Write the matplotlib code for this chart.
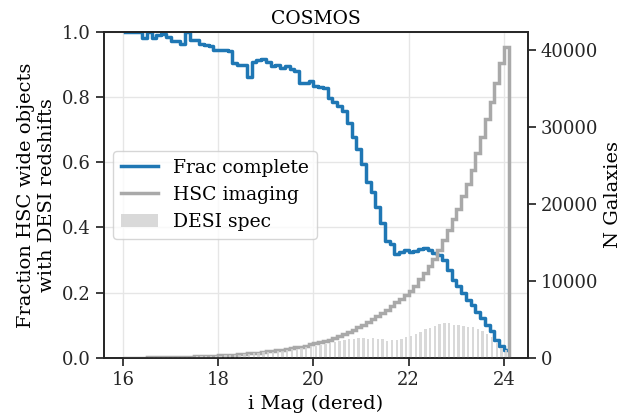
#!/usr/bin/env python
# COSMOS completeness: fraction of HSC wide objects with DESI redshifts vs i mag

import matplotlib
matplotlib.use('Agg')
import matplotlib.pyplot as plt
import numpy as np

plt.rcParams['font.family'] = ['DejaVu Serif']
plt.rcParams['axes.edgecolor'] = '#262626'
plt.rcParams['axes.linewidth'] = 1.25
plt.rcParams['xtick.major.width'] = 1.25
plt.rcParams['ytick.major.width'] = 1.25
plt.rcParams['xtick.major.size'] = 6
plt.rcParams['ytick.major.size'] = 6
plt.rcParams['xtick.color'] = '#262626'
plt.rcParams['ytick.color'] = '#262626'

# bins of 0.1 mag from 16.0 to 24.1
bin_edges = np.round(np.arange(16.0, 24.15, 0.1), 2)
bin_centers = 0.5 * (bin_edges[:-1] + bin_edges[1:])

# HSC imaging counts per bin
hsc_counts = [15, 20, 25, 30, 35, 45, 50, 60, 70, 80,
              95, 110, 125, 140, 160, 180, 200, 225, 255, 285,
              320, 350, 390, 430, 470, 520, 570, 630, 690, 760,
              830, 900, 980, 1060, 1150, 1250, 1350, 1470, 1600, 1740,
              1880, 2020, 2180, 2350, 2550, 2780, 3040, 3320, 3620, 3950,
              4300, 4650, 5000, 5400, 5800, 6250, 6700, 7200, 7700, 8200,
              8700, 9400, 10200, 11000, 11900, 12900, 14000, 15300, 16600, 18000,
              19400, 21000, 22600, 24500, 26600, 28700, 31100, 33300, 35700, 38300,
              40400]

# fraction with DESI redshifts per bin
frac_complete = [1.0, 1.0, 1.0, 1.0, 0.982, 1.0, 0.98, 0.99, 0.993, 0.985,
                 0.972, 0.972, 0.963, 1.0, 0.976, 0.976, 0.962, 0.96, 0.956, 0.946,
                 0.945, 0.945, 0.94, 0.905, 0.90, 0.90, 0.863, 0.909, 0.914, 0.917,
                 0.907, 0.894, 0.90, 0.889, 0.894, 0.887, 0.880, 0.843, 0.843, 0.85,
                 0.835, 0.832, 0.829, 0.797, 0.786, 0.773, 0.756, 0.722, 0.679, 0.64,
                 0.595, 0.541, 0.51, 0.464, 0.415, 0.36, 0.35, 0.319, 0.325, 0.331,
                 0.326, 0.328, 0.333, 0.336, 0.331, 0.323, 0.316, 0.30, 0.27, 0.239,
                 0.219, 0.198, 0.178, 0.163, 0.142, 0.122, 0.101, 0.081, 0.055, 0.035,
                 0.025]

desi_counts = np.array(hsc_counts) * np.array(frac_complete)

fig, ax = plt.subplots(figsize=(6.26, 4.2), dpi=100)
fig.subplots_adjust(left=0.166, right=0.843, bottom=0.148, top=0.924)
ax2 = ax.twinx()

l1, = ax.plot(bin_centers, frac_complete, drawstyle='steps-mid', color='#1f77b4',
              lw=2.5, label='Frac complete')
ax2.stairs(hsc_counts, bin_edges, color='darkgray', lw=2.5)
l2, = ax2.plot([], [], color='darkgray', lw=2.5, label='HSC imaging')
b1 = ax2.bar(bin_centers, desi_counts, width=0.05, color='lightgray', alpha=0.85,
             label='DESI spec')

ax.set_xlim(15.6, 24.5)
ax.set_ylim(0, 1.0)
ax2.set_ylim(0, 42400)
ax.set_xticks([16, 18, 20, 22, 24])
ax2.set_yticks([0, 10000, 20000, 30000, 40000])
ax.grid(True, color='#e6e6e6', lw=1)
ax.set_axisbelow(True)

ax.set_title('COSMOS', fontsize=13.5)
ax.set_xlabel('i Mag (dered)', fontsize=14)
ax.set_ylabel('Fraction HSC wide objects\nwith DESI redshifts', fontsize=14)
ax2.set_ylabel('N Galaxies', fontsize=14)
ax.tick_params(labelsize=13)
ax2.tick_params(labelsize=13)

ax2.legend(handles=[l1, l2, b1], loc='center left', fontsize=13.5, framealpha=0.8)

plt.savefig('out.png', dpi=100)
plt.close(fig)
